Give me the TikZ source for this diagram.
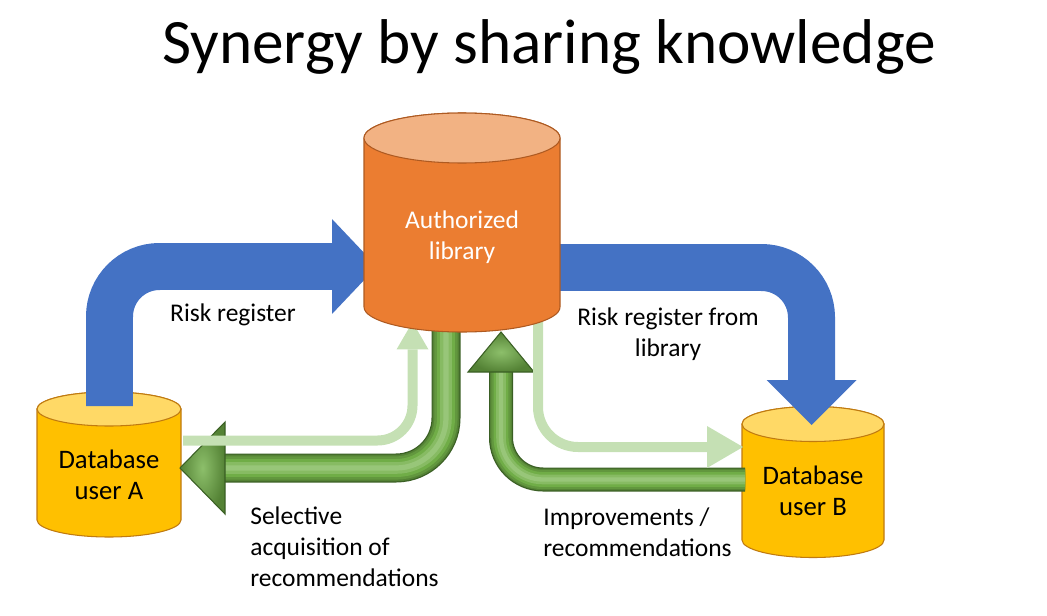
\documentclass[tikz,border=0pt]{standalone}
\usepackage{fontspec}
\setmainfont{Carlito}
\usepackage{tikz}
\usetikzlibrary{arrows.meta}
\definecolor{arrowblue}{HTML}{4472C4}
\definecolor{libBody}{HTML}{EB7D31}
\definecolor{libLid}{HTML}{F2B283}
\definecolor{libEdge}{HTML}{AE5A21}
\definecolor{dbBody}{HTML}{FFC000}
\definecolor{dbLid}{HTML}{FFD966}
\definecolor{dbEdge}{HTML}{C07A10}
\definecolor{tubeEdge}{HTML}{3A5F24}
\definecolor{tubeDark}{HTML}{548235}
\definecolor{tubeMid}{HTML}{70AD47}
\definecolor{tubeLight}{HTML}{A9D18E}
\definecolor{paleGreen}{HTML}{C5E0B4}

\tikzset{
  txt/.style={inner sep=0pt, align=center, font=\fontsize{14.5}{17.6}\selectfont},
  dbtxt/.style={txt, font=\fontsize{15.2}{17.6}\selectfont},
  bluepipe/.style={draw=arrowblue, line width=0.94cm, rounded corners=1cm},
  lightpipe/.style={draw=paleGreen, line width=0.2cm},
  greentube/.style={draw=tubeEdge, line width=#1,
    postaction={draw=tubeDark, line width=#1-1.4pt},
    postaction={draw=tubeDark!50!tubeMid, line width=0.8*#1},
    postaction={draw=tubeMid, line width=0.62*#1},
    postaction={draw=tubeMid!60!tubeLight, line width=0.4*#1},
    postaction={draw=tubeLight!70!tubeMid, line width=0.18*#1}},
  headshade/.style={draw=tubeEdge, line width=0.6pt, inner color=tubeMid!50!tubeLight, outer color=tubeDark}
}

\newcommand\drum[8]{%
  \filldraw[fill=#6, draw=#8, line width=0.6pt] (#1-#4,#2) -- (#1-#4,#3)
    arc[start angle=180, end angle=360, x radius=#4, y radius=#5]
    -- (#1+#4,#2) arc[start angle=0, end angle=180, x radius=#4, y radius=#5] -- cycle;
  \filldraw[fill=#7, draw=#8, line width=0.6pt] (#1,#2) ellipse[x radius=#4, y radius=#5];
}

\begin{document}
\begin{tikzpicture}[x=0.02cm,y=0.02cm]
\useasboundingbox (0,0) rectangle (1047,-615);
\node[inner sep=0pt, font=\fontsize{36}{40}\selectfont] (title) at (549,-47) {Synergy by sharing knowledge};

\drum{109}{-409}{-520}{72}{17}{dbBody}{dbLid}{dbEdge}
\drum{813}{-424}{-540}{71}{17.5}{dbBody}{dbLid}{dbEdge}
\node[dbtxt] (dba) at (109,-475) {Database\\user A};
\node[dbtxt] (dbb) at (813,-491) {Database\\user B};

\coordinate (l3) at (446,-320);
\coordinate (a2) at (225,-468);
\draw[greentube=0.58cm, rounded corners=1cm] (l3) |- (a2);
\shade[headshade, shift={(a2)}] (0,46) -- (-45,0) -- (0,-46) -- cycle;

\coordinate (b2) at (745,-479.5);
\coordinate (l4) at (501,-372);
\draw[greentube=0.48cm, rounded corners=0.84cm] (b2) -| (l4);
\shade[headshade, shift={(l4)}] (-33,0) -- (0,40) -- (33,0) -- cycle;

\coordinate (a3) at (183,-440.5);
\coordinate (l5) at (412.5,-322);
\draw[lightpipe, rounded corners=0.7cm, -{Triangle[length=0.55cm,width=0.64cm,line width=0pt]}] (a3) -| (l5);
\coordinate (l6) at (538,-322);
\coordinate (b3) at (743,-447);
\draw[lightpipe, rounded corners=0.8cm, -{Triangle[length=0.72cm,width=0.84cm,line width=0pt]}] (l6) |- (b3);

\coordinate (a1) at (109.5,-406);
\coordinate (l1) at (377,-266.5);
\draw[bluepipe, -{Triangle[length=0.9cm,width=1.9cm,line width=0pt]}] (a1) |- (l1);
\coordinate (l2) at (530,-267.5);
\coordinate (b1) at (811.5,-425);
\draw[bluepipe, -{Triangle[length=0.9cm,width=1.8cm,line width=0pt]}] (l2) -| (b1);

\drum{462}{-138}{-307}{98}{25}{libBody}{libLid}{libEdge}
\node[txt, text=white] (lib) at (462,-237) {Authorized\\library};

\node[txt] (rr) at (233,-315) {Risk register};
\node[txt] (rrl) at (668,-334) {Risk register from\\library};
\node[txt, anchor=west, align=left] (sel) at (250,-547) {Selective\\acquisition of\\recommendations};
\node[txt, anchor=west, align=left] (imp) at (543,-532) {Improvements /\\recommendations};
\end{tikzpicture}
\end{document}
